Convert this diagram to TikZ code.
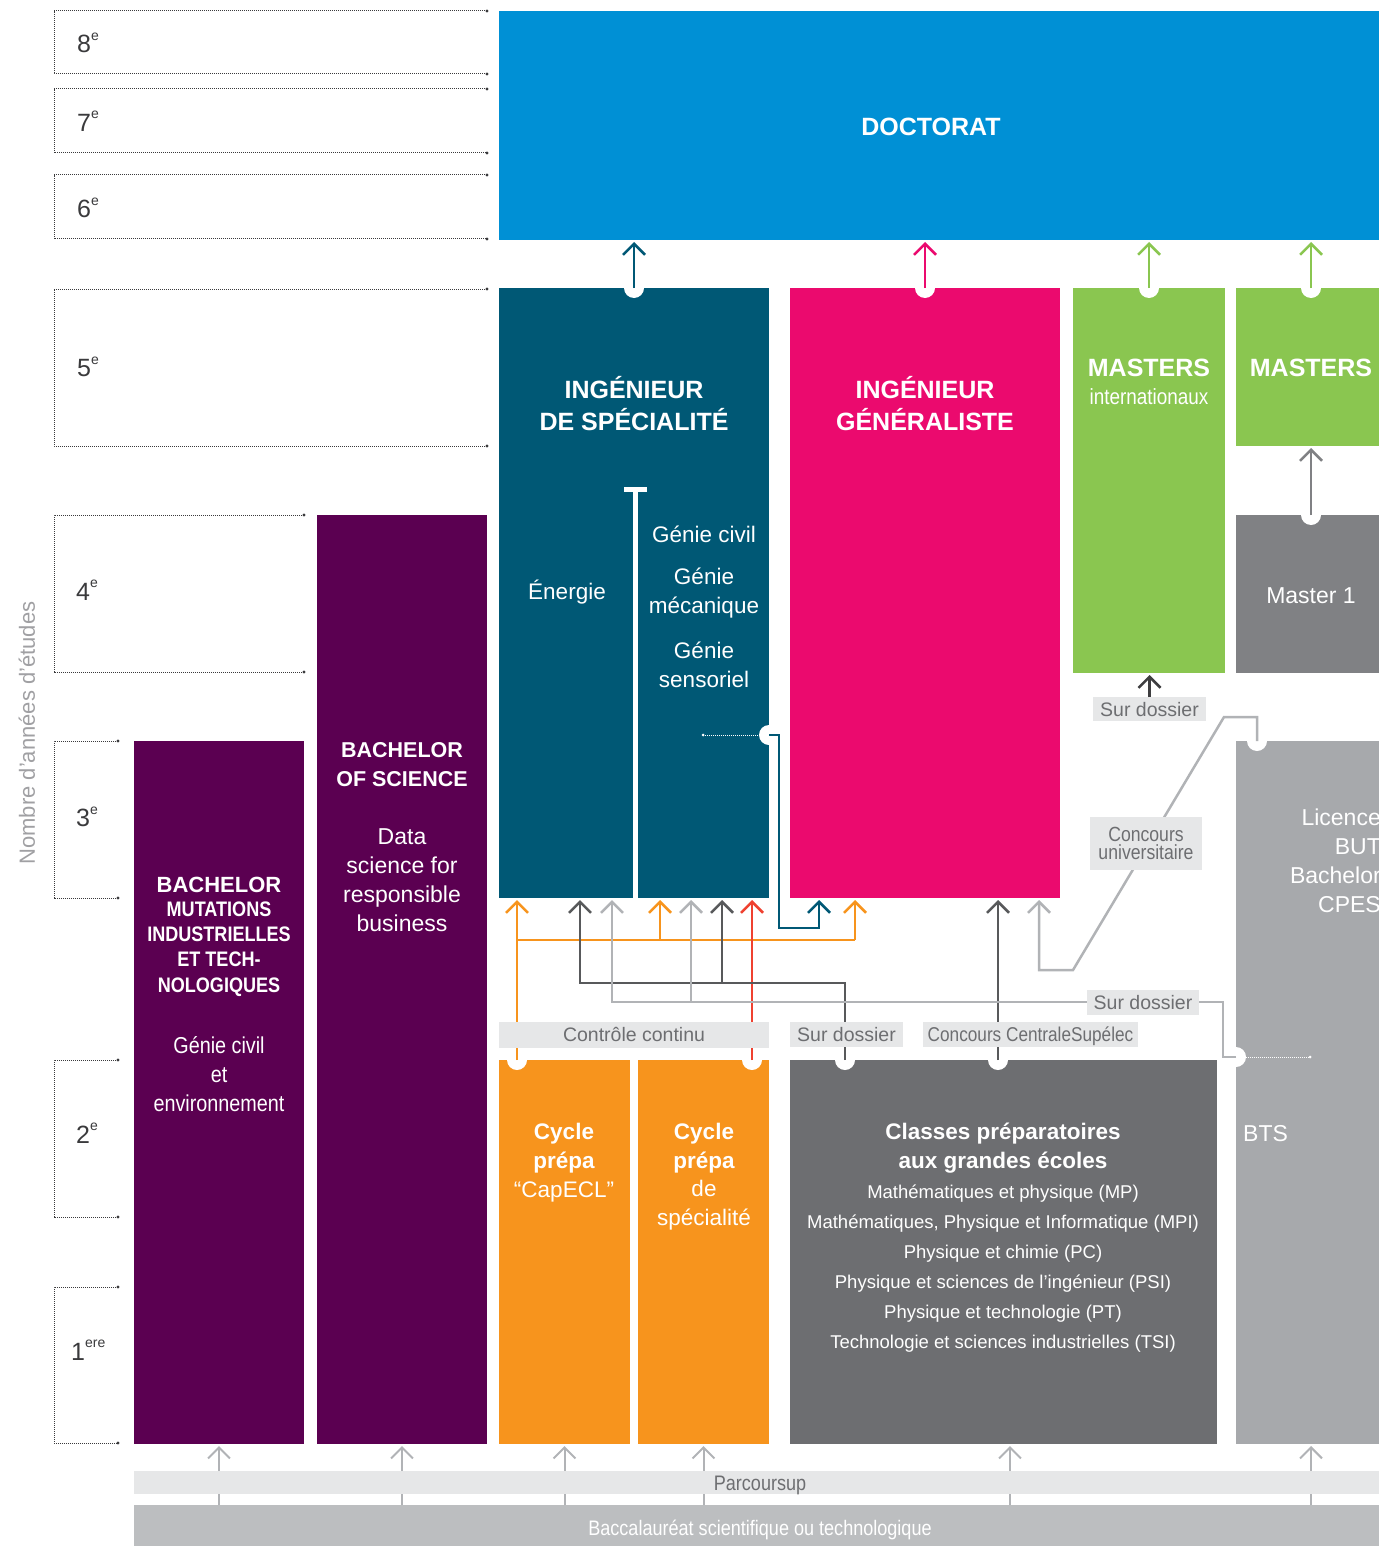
\documentclass[tikz,border=0pt]{standalone}
\usepackage{fontspec}
\setmainfont{Liberation Sans}
\newfontfamily\cond[FakeStretch=0.86]{Liberation Sans}
\usetikzlibrary{arrows.meta}
\definecolor{cDoc}{HTML}{0090D5}
\definecolor{cTeal}{HTML}{005875}
\definecolor{cPink}{HTML}{EB0A6E}
\definecolor{cGreen}{HTML}{8AC650}
\definecolor{cMone}{HTML}{808184}
\definecolor{cLic}{HTML}{A7A9AC}
\definecolor{cCpge}{HTML}{6D6E71}
\definecolor{cOrange}{HTML}{F7941D}
\definecolor{cPurple}{HTML}{5B0051}
\definecolor{cRed}{HTML}{EF4130}
\definecolor{cLblBg}{HTML}{E6E7E8}
\definecolor{cLblTx}{HTML}{6D6E71}
\definecolor{cDark}{HTML}{58595B}
\definecolor{cDarker}{HTML}{3E3E40}
\definecolor{cLight}{HTML}{B1B3B6}
\definecolor{cBac}{HTML}{BCBEC0}
\definecolor{cYr}{HTML}{3A3A3C}
\definecolor{cAxis}{HTML}{A0A0A3}
\newcommand\fs[2]{\fontsize{#1}{#2}\selectfont}
\newcommand\yrsup[1]{\raisebox{0.5em}{\fs{14}{14}#1}}
\tikzset{
  blk/.style={inner sep=0, outer sep=0, anchor=north west, draw=none},
  wt/.style={text=white, inner sep=0, align=center},
  sl/.style={text height=#1, text depth=0pt},
  lbl/.style={fill=cLblBg, text=cLblTx, inner sep=0, outer sep=0, align=center},
  arr/.style={line width=2.5pt, -{Straight Barb[length=11pt,width=22pt]}, shorten >=2pt},
  ln/.style={line width=2.5pt},
  barr/.style={line width=2pt, cLight, -{Straight Barb[length=11pt,width=22pt]}, shorten >=2pt},
  yr/.style={draw=cYr, line width=1pt, dash pattern=on 1.2pt off 0.8pt},
  yrl/.style={text=cYr, inner sep=0, anchor=west, font=\fs{25}{30}},
  notch/.style={white}
}
\newcommand\yearbox[3]{%
  \draw[yr] (#1,#2) -- (54,#2) -- (54,#3) -- (#1,#3);
  \fill[cYr] (#1,#2) circle (1.6) (#1,#3) circle (1.6);}
\begin{document}
\begin{tikzpicture}[x=1pt,y=-1pt]
\useasboundingbox (0,0) rectangle (1379,1546);

% year boxes
\yearbox{487}{11}{74}
\yearbox{487}{89}{153}
\yearbox{487}{175}{239}
\yearbox{487}{289}{446}
\yearbox{304}{515}{672}
\yearbox{118}{741}{898}
\yearbox{118}{1060}{1217}
\yearbox{118}{1287}{1443}
\node[yrl] (y8) at (77,43) {8\yrsup{e}};
\node[yrl] (y7) at (77,121) {7\yrsup{e}};
\node[yrl] (y6) at (77,208) {6\yrsup{e}};
\node[yrl] (y5) at (77,367) {5\yrsup{e}};
\node[yrl] (y4) at (76,590) {4\yrsup{e}};
\node[yrl] (y3) at (76,817) {3\yrsup{e}};
\node[yrl] (y2) at (76,1133) {2\yrsup{e}};
\node[yrl] (y1) at (71,1350) {1\yrsup{ere}};
\node[rotate=90, text=cAxis, inner sep=0, font=\fs{22}{26}] (axis) at (27,733) {Nombre d'années d'études};

% blocks
\node[blk, fill=cDoc, minimum width=880pt, minimum height=229pt] (doc) at (499,11) {};
\node[blk, fill=cTeal, minimum width=270pt, minimum height=610pt] (ids) at (499,288) {};
\node[blk, fill=cPink, minimum width=270pt, minimum height=610pt] (igen) at (790,288) {};
\node[blk, fill=cGreen, minimum width=152pt, minimum height=385pt] (mint) at (1073,288) {};
\node[blk, fill=cGreen, minimum width=143pt, minimum height=158pt] (mas) at (1236,288) {};
\node[blk, fill=cMone, minimum width=143pt, minimum height=158pt] (m1) at (1236,515) {};
\node[blk, fill=cLic, minimum width=143pt, minimum height=703pt] (lic) at (1236,741) {};
\node[blk, fill=cCpge, minimum width=427pt, minimum height=384pt] (cpge) at (790,1060) {};
\node[blk, fill=cOrange, minimum width=131pt, minimum height=384pt] (cap) at (499,1060) {};
\node[blk, fill=cOrange, minimum width=131pt, minimum height=384pt] (cps) at (638,1060) {};
\node[blk, fill=cPurple, minimum width=170pt, minimum height=703pt] (bmu) at (134,741) {};
\node[blk, fill=cPurple, minimum width=170pt, minimum height=929pt] (bos) at (317,515) {};

% inner split of ingenieur de specialite
\draw[white, line width=5pt] (624,489) -- (647,489);
\draw[white, line width=5pt] (635.5,487) -- (635.5,898);

% notch coordinates
\coordinate (nIdsT) at (634,288);
\coordinate (nIgT) at (925,288);
\coordinate (nMiT) at (1149,288);
\coordinate (nMaT) at (1311,288);
\coordinate (nM1T) at (1311,515);
\coordinate (nIdsR) at (769,735);
\coordinate (nLicT) at (1257,741);
\coordinate (nLicL) at (1236,1057);
\coordinate (nCap) at (517,1060);
\coordinate (nCps) at (752,1060);
\coordinate (nCp1) at (845,1060);
\coordinate (nCp2) at (998,1060);
\foreach \n in {nIdsT,nIgT,nMiT,nMaT,nM1T,nIdsR,nLicT,nLicL,nCap,nCps,nCp1,nCp2}
  \fill[notch] (\n) circle (10);

% junction coordinates
\coordinate (oL) at (517,940);
\coordinate (oM) at (660,940);
\coordinate (oR) at (855,940);
\coordinate (dL) at (580,983);
\coordinate (dM) at (722,983);
\coordinate (dR) at (845,983);
\coordinate (gL) at (612,1002);
\coordinate (gM) at (691,1002);
\coordinate (gR) at (1223,1002);
\coordinate (tB) at (779,928);
\coordinate (tC) at (819,928);
\coordinate (cA) at (1257,717);
\coordinate (cB) at (1224,717);
\coordinate (cC) at (1073,970);
\coordinate (cD) at (1039,970);

% dotted white lines
\draw[white, line width=1pt, dash pattern=on 1.2pt off 0.8pt] (703,735) -- (nIdsR);
\fill[white] (703,735) circle (1.5);
\draw[white, line width=1pt, dash pattern=on 1.2pt off 0.8pt] (nLicL) -- (1310,1057);
\fill[white] (1310,1057) circle (1.5);

% connectors to doctorat
\draw[arr, cTeal] (nIdsT) -- (nIdsT |- doc.south);
\draw[arr, cPink] (nIgT) -- (nIgT |- doc.south);
\draw[arr, cGreen] (nMiT) -- (nMiT |- doc.south);
\draw[arr, cGreen] (nMaT) -- (nMaT |- doc.south);
\draw[arr, cMone] (nM1T) -- (nM1T |- mas.south);

% connectors from prepas
\draw[arr, cOrange] (nCap) -- (nCap |- ids.south);
\draw[ln, cOrange] (oL) -- (oR);
\draw[arr, cOrange] (oM) -- (oM |- ids.south);
\draw[arr, cOrange] (oR) -- (oR |- igen.south);
\draw[arr, cRed] (nCps) -- (nCps |- ids.south);
\draw[arr, cDark] (nCp1) -- (dR) -- (dL) -- (dL |- ids.south);
\draw[arr, cDark] (dM) -- (dM |- ids.south);
\draw[arr, cDark] (nCp2) -- (nCp2 |- igen.south);
\draw[arr, cLight] (nLicL) -| (gR) -- (gL) -- (gL |- ids.south);
\draw[arr, cLight] (gM) -- (gM |- ids.south);
\draw[arr, cLight] (nLicT) -- (cA) -- (cB) -- (cC) -- (cD) -- (cD |- igen.south);
\draw[arr, cTeal] (nIdsR) -| (tB) -- (tC) -- (tC |- igen.south);

% labels
\node[lbl, sl=14pt, minimum width=113pt, minimum height=24pt, font=\fs{19.5}{22}] (sdM) at (1149.5,709) {Sur dossier};
\draw[arr, cDarker] (sdM.north) -- (sdM.north |- mint.south);
\node[lbl, minimum width=112pt, minimum height=53pt, font=\cond\fs{20.5}{17.5}] (cu) at (1146,843.5) {Concours\\universitaire};
\node[lbl, sl=14pt, minimum width=112pt, minimum height=25pt, font=\fs{19.5}{22}] (sdR) at (1143,1002) {Sur dossier};
\node[lbl, sl=14pt, minimum width=113pt, minimum height=25pt, font=\fs{19.5}{22}] (sdC) at (846.5,1034.5) {Sur dossier};
\node[lbl, sl=14.4pt, minimum width=215pt, minimum height=25pt, font=\cond\fs{20}{22}] (ccs) at (1030.5,1034.5) {Concours CentraleSupélec};
\node[lbl, sl=14pt, minimum width=270pt, minimum height=26pt, font=\fs{19.5}{22}] (cc) at (634,1034.5) {Contrôle continu};

% bottom
\node[blk, fill=cBac, minimum width=1245pt, minimum height=41pt] (bac) at (134,1505) {};
\draw[barr] (bac.north -| bmu.south) -- (bmu.south);
\draw[barr] (bac.north -| bos.south) -- (bos.south);
\draw[barr] (bac.north -| cap.south) -- (cap.south);
\draw[barr] (bac.north -| cps.south) -- (cps.south);
\draw[barr] ([xshift=6.5pt]bac.north -| cpge.south) -- ([xshift=6.5pt]cpge.south);
\draw[barr] ([xshift=3.5pt]bac.north -| lic.south) -- ([xshift=3.5pt]lic.south);
\node[blk, fill=cLblBg, minimum width=1245pt, minimum height=23pt] (parc) at (134,1471) {};
\node[sl=15pt, text=cLblTx, inner sep=0, font=\cond\fs{21}{24}] (parcT) at (760,1483) {Parcoursup};
\node[sl=15pt, text=white, inner sep=0, font=\cond\fs{21}{24}] (bacT) at (760,1528) {Baccalauréat scientifique ou technologique};

% texts
\node[wt, sl=18pt, font=\bfseries\fs{25}{30}] (tdoc) at (931,127) {DOCTORAT};
\node[wt, font=\bfseries\fs{25}{32}] (tids) at (634,404) {INGÉNIEUR\\DE SPÉCIALITÉ};
\node[wt, sl=16.2pt, font=\fs{22.5}{28}] (ten) at (567,591) {Énergie};
\node[wt, sl=16.2pt, font=\fs{22.5}{28}] (tgc) at (704,534) {Génie civil};
\node[wt, font=\fs{22.5}{28.5}] (tgm) at (704,593) {Génie\\mécanique};
\node[wt, font=\fs{22.5}{28.5}] (tgs) at (704,665) {Génie\\sensoriel};
\node[wt, font=\bfseries\fs{25}{32}] (tigen) at (925,404) {INGÉNIEUR\\GÉNÉRALISTE};
\node[wt, sl=18pt, font=\bfseries\fs{25}{30}] (tmi) at (1149,367) {MASTERS};
\node[wt, sl=15.8pt, font=\cond\fs{22}{26}] (tmi2) at (1149,397) {internationaux};
\node[wt, sl=18pt, font=\bfseries\fs{25}{30}] (tma) at (1311,367) {MASTERS};
\node[wt, sl=16.5pt, font=\fs{23}{28}] (tm1) at (1311,595) {Master 1};
\node[wt, align=right, anchor=east, font=\fs{23}{29}] (tlic) at (1381,861) {Licence\\BUT\\Bachelor\\CPES};
\node[wt, sl=16.5pt, anchor=west, font=\fs{23}{28}] (tbts) at (1243,1133) {BTS};
\node[wt, font=\bfseries\fs{22.5}{29}] (tcp1) at (1003,1148) {Classes préparatoires\\aux grandes écoles};
\node[wt, font=\fs{18.5}{30}] (tcp2) at (1003,1269) {Mathématiques et physique (MP)\\Mathématiques, Physique et Informatique (MPI)\\Physique et chimie (PC)\\Physique et sciences de l’ingénieur (PSI)\\Physique et technologie (PT)\\Technologie et sciences industrielles (TSI)};
\node[wt, font=\bfseries\fs{22.5}{29}] (tcap1) at (564,1148) {Cycle\\prépa};
\node[wt, sl=16.2pt, font=\fs{22.5}{29}] (tcap2) at (564,1189) {“CapECL”};
\node[wt, font=\bfseries\fs{22.5}{29}] (tcps1) at (704,1148) {Cycle\\prépa};
\node[wt, font=\fs{22.5}{29}] (tcps2) at (704,1205) {de\\spécialité};
\node[wt, sl=15.8pt, font=\bfseries\fs{22}{26}] (tbm1) at (219,885) {BACHELOR};
\node[wt, font=\cond\bfseries\fs{21}{25.3}] (tbm2) at (219,949) {MUTATIONS\\INDUSTRIELLES\\ET TECH-\\NOLOGIQUES};
\node[wt, font=\cond\fs{23}{29}] (tbm3) at (219,1074) {Génie civil\\et\\environnement};
\node[wt, font=\bfseries\fs{21.5}{29}] (tbs1) at (402,765) {BACHELOR\\OF SCIENCE};
\node[wt, font=\fs{23}{29}] (tbs2) at (402,880) {Data\\science for\\responsible\\business};
\end{tikzpicture}
\end{document}
